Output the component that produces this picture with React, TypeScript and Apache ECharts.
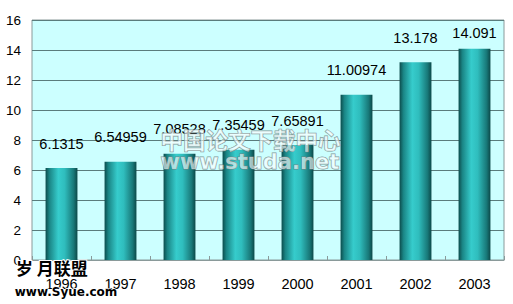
import React, { useEffect, useRef } from "react";
import * as echarts from "echarts";

const categories = ["1996", "1997", "1998", "1999", "2000", "2001", "2002", "2003"];
const values = [6.1315, 6.54959, 7.08528, 7.35459, 7.65891, 11.00974, 13.178, 14.091];
const valueLabels = ["6.1315", "6.54959", "7.08528", "7.35459", "7.65891", "11.00974", "13.178", "14.091"];
const yTicks = { min: 0, max: 16, interval: 2 };

export default function App() {
  const ref = useRef<HTMLDivElement>(null);
  useEffect(() => {
    const chart = echarts.init(ref.current!, null, { renderer: "svg" });
    const barColor = new echarts.graphic.LinearGradient(0, 0, 1, 0, [
      { offset: 0, color: "#0c4c4c" },
      { offset: 0.12, color: "#1a8585" },
      { offset: 0.4, color: "#36cccc" },
      { offset: 0.6, color: "#2fbdbd" },
      { offset: 0.88, color: "#187878" },
      { offset: 1, color: "#0c4848" },
    ]);
    const labelDistance = (i: number) => (i === values.length - 1 ? 8 : 17);
    chart.setOption({
      animation: false,
      backgroundColor: "#ffffff",
      grid: {
        left: 32,
        right: 9,
        top: 20,
        bottom: 44,
        show: true,
        backgroundColor: "#ccffff",
        borderColor: "#8a9a9a",
        borderWidth: 1,
      },
      xAxis: {
        type: "category",
        data: categories,
        boundaryGap: true,
        axisLine: { show: true, lineStyle: { color: "#8a9a9a" } },
        axisTick: { show: true, inside: true, length: 4, lineStyle: { color: "#8a9a9a" } },
        axisLabel: { color: "#000", fontSize: 14.5, fontFamily: "Arial, Liberation Sans", margin: 16 },
      },
      yAxis: {
        type: "value",
        min: yTicks.min,
        max: yTicks.max,
        interval: yTicks.interval,
        axisLine: { show: false },
        axisTick: { show: false },
        axisLabel: { color: "#000", fontSize: 13.5, fontFamily: "Arial, Liberation Sans", margin: 11 },
        splitLine: { show: true, lineStyle: { color: "#5a7c7c", width: 1 } },
      },
      series: [
        {
          type: "bar",
          data: values.map((v, i) => ({ value: v, label: { distance: labelDistance(i) } })),
          barWidth: "54%",
          itemStyle: { color: barColor },
          label: {
            show: true,
            position: "top",
            color: "#000",
            fontSize: 14.5,
            fontFamily: "Arial, Liberation Sans",
            formatter: (p: any) => valueLabels[p.dataIndex],
          },
        },
      ],
      graphic: [
        {
          type: "text",
          left: 160,
          top: 127,
          z: 100,
          style: {
            text: "中国论文下载中心",
            font: "bold 22.5px 'Noto Sans CJK SC'",
            fill: "rgba(255,255,255,0.6)",
            stroke: "rgba(110,130,130,0.85)",
            lineWidth: 1,
          },
        },
        {
          type: "text",
          left: 160,
          top: 151,
          z: 100,
          style: {
            text: "www.studa.net",
            font: "bold 21px 'DejaVu Sans'",
            fill: "rgba(255,255,255,0.6)",
            stroke: "rgba(110,130,130,0.85)",
            lineWidth: 1,
          },
        },
        {
          type: "text",
          left: 15,
          top: 258,
          z: 100,
          style: {
            text: "岁 月联盟",
            font: "bold 17px 'Noto Sans CJK SC'",
            fill: "#000",
            stroke: "#fff",
            lineWidth: 2,
          },
        },
        {
          type: "text",
          left: 14,
          top: 285,
          z: 100,
          style: {
            text: "www.Syue.com",
            font: "bold 12px 'DejaVu Sans'",
            fill: "#000",
            stroke: "#fff",
            lineWidth: 1.5,
          },
        },
      ],
    });
    return () => chart.dispose();
  }, []);
  return <div ref={ref} style={{ width: 513, height: 304, position: "absolute", left: 0, top: 0 }} />;
}
